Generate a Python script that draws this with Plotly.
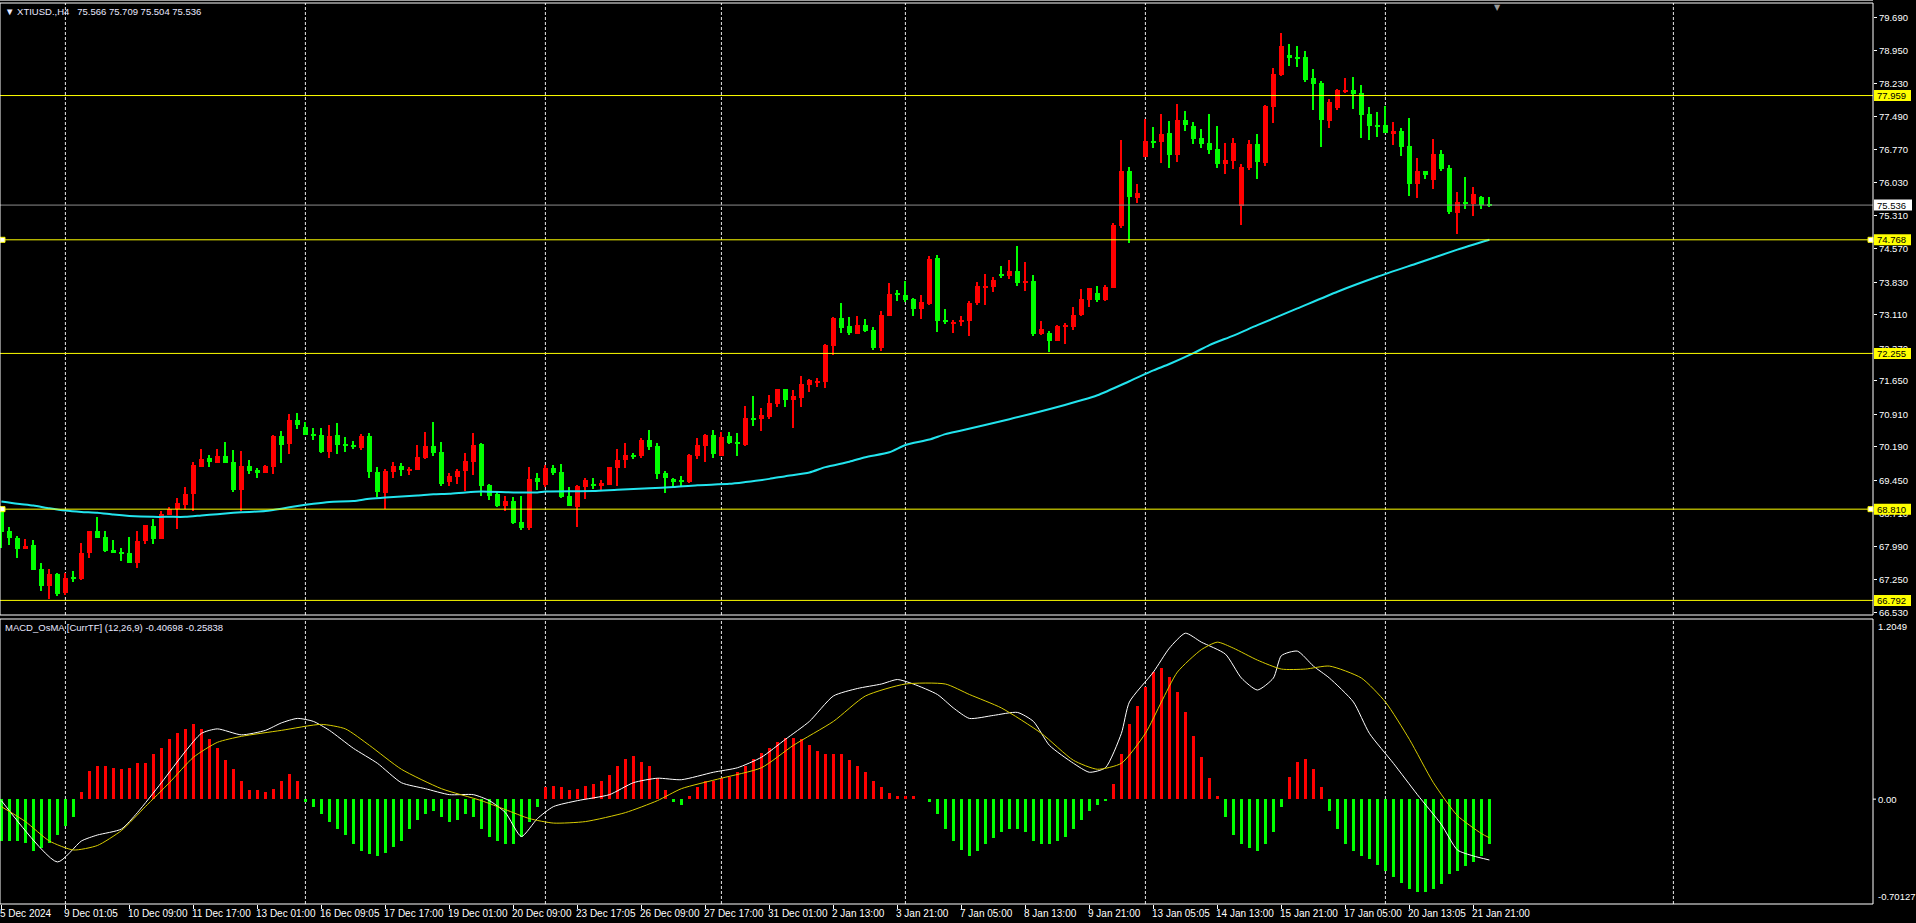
import plotly.graph_objects as go

# ---------------- DATA ----------------
opens = [68.79,68.33,68.17,67.94,68.02,67.49,67.10,67.38,66.96,67.29,
         67.27,67.83,68.33,68.20,67.91,67.87,67.84,67.63,68.11,68.44,
         68.16,68.68,68.81,68.91,69.15,69.75,69.94,69.84,69.99,69.85,
         69.24,69.77,69.68,69.61,69.75,70.43,70.25,70.78,70.63,70.45,
         70.45,70.08,70.45,70.25,70.23,70.16,70.43,69.63,69.17,69.63,
         69.77,69.66,69.68,69.94,70.21,70.07,69.41,69.52,69.66,69.86,
         70.25,69.35,69.15,68.89,68.99,68.53,68.40,69.50,69.35,69.73,
         69.63,69.10,68.86,69.30,69.37,69.33,69.35,69.72,69.90,70.00,
         69.99,70.34,70.21,69.61,69.48,69.44,69.41,69.99,70.21,70.45,
         69.99,70.43,70.29,70.23,70.83,70.80,70.85,71.14,71.47,71.23,
         71.27,71.56,71.62,71.62,72.42,73.04,72.86,72.68,72.88,72.77,
         72.38,73.08,73.58,73.55,73.46,73.24,73.35,74.37,72.99,72.92,
         72.94,72.98,73.36,73.72,73.72,73.99,73.97,74.08,73.81,73.86,
         72.68,72.71,72.54,72.85,72.84,73.11,73.44,73.59,73.44,73.70,
         75.07,76.29,75.69,76.60,76.95,76.93,77.13,76.64,77.42,77.29,
         77.02,76.91,76.78,76.45,76.51,75.52,76.36,76.89,76.47,77.71,
         78.41,78.86,78.81,78.81,78.35,78.24,77.40,77.68,78.04,78.08,
         78.01,77.55,77.29,77.31,77.13,77.17,76.84,76.00,76.29,76.09,
         76.67,76.36,75.36,75.60,75.56,75.72,75.566]
highs = [68.83,68.42,68.21,68.15,68.13,67.62,67.49,67.40,67.39,67.44,
         68.06,68.33,68.64,68.33,68.13,67.96,68.19,68.33,68.46,68.59,
         68.78,68.85,69.06,69.30,69.86,70.14,70.01,70.14,70.30,70.12,
         70.10,69.90,69.72,69.79,70.45,70.54,70.92,70.94,70.74,70.61,
         70.61,70.67,70.72,70.41,70.32,70.47,70.50,69.74,69.70,69.85,
         69.83,69.74,70.23,70.52,70.74,70.30,69.61,69.70,70.05,70.50,
         70.27,69.37,69.21,69.10,69.07,69.10,69.74,69.60,69.78,69.78,
         69.81,69.29,69.35,69.49,69.51,69.46,69.74,70.14,70.27,70.05,
         70.38,70.56,70.27,69.65,69.50,69.54,70.03,70.38,70.47,70.56,
         70.52,70.52,70.49,71.09,71.31,71.05,71.34,71.47,71.47,71.45,
         71.76,71.69,71.71,72.46,73.06,73.37,73.06,73.08,73.02,72.84,
         73.19,73.81,73.66,73.86,73.48,73.55,74.41,74.43,73.24,73.00,
         73.08,73.41,73.83,74.01,73.95,74.19,74.32,74.63,74.28,73.99,
         72.97,72.75,72.88,72.93,73.28,73.68,73.70,73.75,73.77,75.14,
         76.98,76.38,76.00,77.44,77.26,77.55,77.40,77.77,77.62,77.37,
         77.22,77.55,77.29,76.91,77.02,76.45,76.98,77.11,77.75,78.57,
         79.34,79.10,79.06,78.94,78.55,78.28,77.88,78.10,78.35,78.37,
         78.19,77.71,77.60,77.73,77.37,77.24,77.46,76.58,76.29,77.00,
         76.76,76.42,75.83,76.16,75.94,75.74,75.709]
lows = [67.96,68.02,67.74,67.94,67.47,66.99,66.82,66.90,66.91,67.19,
        67.24,67.74,68.18,67.87,67.83,67.67,67.63,67.50,68.05,68.03,
        68.14,68.67,68.38,68.82,68.76,69.75,69.75,69.84,69.84,69.20,
        68.76,69.59,69.51,69.60,69.59,69.83,70.03,70.59,70.46,70.35,
        70.06,69.95,70.03,70.08,70.14,70.11,69.51,69.09,68.81,69.49,
        69.54,69.57,69.68,69.92,69.99,69.32,69.32,69.37,69.21,69.57,
        69.10,69.01,68.86,68.78,68.48,68.36,68.34,69.23,69.31,69.57,
        69.05,68.87,68.42,69.04,69.25,69.23,69.35,69.32,69.72,69.92,
        69.94,70.12,69.48,69.17,69.29,69.31,69.39,69.92,69.85,69.94,
        69.99,70.25,69.99,70.21,70.65,70.54,70.80,71.06,71.07,70.61,
        71.06,71.40,71.51,71.49,72.21,72.71,72.66,72.68,72.73,72.33,
        72.31,73.08,73.41,73.39,73.08,73.02,73.33,72.73,72.91,72.71,
        72.87,72.65,73.33,73.33,73.61,73.92,73.90,73.75,73.64,72.64,
        72.66,72.29,72.54,72.47,72.77,73.08,73.28,73.39,73.42,73.70,
        75.03,74.70,75.58,76.60,76.80,76.47,76.36,76.49,77.17,76.89,
        76.80,76.67,76.36,76.22,76.33,75.10,76.31,76.12,76.41,77.36,
        78.39,78.61,78.59,78.26,77.64,76.82,77.24,77.64,78.02,77.66,
        77.02,76.98,77.04,77.13,76.87,76.62,75.74,75.69,76.11,75.89,
        76.29,75.34,74.90,75.45,75.30,75.45,75.504]
closes = [68.31,68.18,67.94,68.00,67.47,67.10,67.38,66.94,67.29,67.27,
          67.84,68.33,68.18,67.89,67.85,67.83,67.63,68.11,68.46,68.16,
          68.70,68.81,68.95,69.15,69.79,69.92,69.86,69.99,69.84,69.24,
          69.77,69.66,69.62,69.77,70.43,70.24,70.78,70.68,70.46,70.44,
          70.08,70.43,70.24,70.21,70.19,70.43,69.63,69.19,69.66,69.77,
          69.68,69.70,69.97,70.21,70.05,69.37,69.54,69.66,69.88,70.23,
          69.32,69.10,68.88,68.99,68.50,68.40,69.48,69.41,69.72,69.61,
          69.09,68.87,69.32,69.46,69.33,69.39,69.74,69.90,70.01,69.98,
          70.34,70.18,69.59,69.50,69.41,69.43,70.01,70.23,70.45,70.03,
          70.41,70.27,70.26,70.83,70.80,70.89,71.16,71.47,71.23,71.31,
          71.58,71.67,71.65,72.44,73.04,72.82,72.71,72.88,72.75,72.38,
          73.11,73.57,73.55,73.44,73.24,73.39,74.34,72.97,72.96,72.95,
          73.00,73.37,73.75,73.75,73.88,73.97,74.08,73.81,73.86,72.68,
          72.80,72.54,72.86,72.86,73.11,73.46,73.70,73.44,73.72,75.10,
          76.29,75.72,75.80,76.95,76.93,77.11,76.64,77.42,77.31,77.00,
          76.89,76.75,76.45,76.53,76.91,76.38,76.89,76.50,77.73,78.44,
          79.06,78.79,78.79,78.30,78.22,77.42,77.82,78.08,78.08,77.99,
          77.53,77.29,77.27,77.13,77.17,76.82,76.00,76.29,76.20,76.67,
          76.33,75.38,75.60,75.56,75.78,75.54,75.536]

# moving average (cyan), sampled at bar indexes
ma_bars = [0,2,4,6,8,10,12,14,16,19,21,23,25,27,29,31,33,35,37,39,41,44,46,48,50,52,54,56,58,60,
           64,67,68,74,77,81,84,87,91,93,96,98,101,103,106,108,111,113,116,118,120,
           126,132,137,141,144,146,149,151,154,157,162,167,172,177,182,186]
ma_vals = [68.98,68.93,68.89,68.83,68.78,68.75,68.73,68.69,68.66,68.64,68.64,68.64,68.67,68.70,68.73,
           68.75,68.77,68.82,68.88,68.93,68.97,68.99,69.04,69.07,69.09,69.11,69.14,69.15,69.18,69.20,
           69.18,69.18,69.20,69.21,69.24,69.27,69.30,69.34,69.37,69.41,69.48,69.54,69.62,69.74,69.86,
           69.96,70.07,70.23,70.35,70.47,70.55,
           70.80,71.07,71.33,71.64,71.88,72.02,72.26,72.44,72.65,72.88,73.25,73.62,73.95,74.25,74.55,74.77]

# MACD_OsMA histogram (one value per bar)
osma = [-0.28,-0.28,-0.28,-0.29,-0.35,-0.33,-0.29,-0.24,-0.18,-0.12,
        0.05,0.19,0.22,0.22,0.21,0.20,0.21,0.24,0.24,0.30,
        0.34,0.40,0.44,0.47,0.50,0.47,0.40,0.34,0.26,0.20,
        0.12,0.06,0.06,0.05,0.07,0.12,0.17,0.12,-0.02,-0.05,
        -0.10,-0.15,-0.20,-0.24,-0.30,-0.35,-0.37,-0.38,-0.36,-0.32,
        -0.28,-0.20,-0.14,-0.10,-0.08,-0.12,-0.15,-0.14,-0.10,-0.12,
        -0.20,-0.25,-0.28,-0.30,-0.30,-0.25,-0.15,-0.05,0.08,0.09,
        0.08,0.06,0.07,0.09,0.10,0.12,0.16,0.22,0.27,0.29,
        0.25,0.22,0.14,0.06,-0.02,-0.04,0.02,0.08,0.12,0.12,
        0.14,0.15,0.18,0.22,0.27,0.31,0.34,0.38,0.41,0.41,
        0.40,0.36,0.32,0.30,0.30,0.30,0.26,0.22,0.18,0.12,
        0.08,0.04,0.02,0.02,0.02,0.00,-0.02,-0.10,-0.20,-0.28,
        -0.34,-0.38,-0.35,-0.30,-0.26,-0.22,-0.20,-0.20,-0.22,-0.28,
        -0.30,-0.30,-0.28,-0.25,-0.20,-0.14,-0.08,-0.04,-0.01,0.10,
        0.30,0.50,0.62,0.75,0.85,0.88,0.82,0.72,0.58,0.42,
        0.28,0.14,0.02,-0.12,-0.24,-0.30,-0.33,-0.35,-0.30,-0.22,
        -0.05,0.15,0.25,0.27,0.20,0.08,-0.08,-0.20,-0.30,-0.35,
        -0.38,-0.40,-0.44,-0.48,-0.52,-0.56,-0.60,-0.62,-0.62,-0.60,
        -0.57,-0.50,-0.48,-0.45,-0.42,-0.38,-0.30]

# MACD main line (white), sampled at bar indexes
macd_bars = [0,7,10,12,15,17,20,23,25,27,30,33,35,37,39,41,44,47,50,53,56,59,61,63,65,67,69,72,76,79,
             82,85,89,92,95,98,101,104,107,110,112,114,117,119,121,124,127,129,131,134,136,138,140,141,
             144,146,148,150,153,155,157,159,160,162,164,166,169,171,174,177,180,182,184,186]
macd_vals = [-0.01,-0.42,-0.28,-0.24,-0.20,-0.09,0.11,0.32,0.44,0.47,0.43,0.46,0.51,0.54,0.52,0.46,
             0.34,0.24,0.11,0.07,0.03,0.03,-0.01,-0.09,-0.25,-0.13,-0.05,-0.01,0.03,0.11,
             0.14,0.13,0.18,0.21,0.28,0.40,0.52,0.69,0.74,0.77,0.80,0.77,0.70,0.61,0.54,0.56,0.58,
             0.52,0.36,0.24,0.18,0.21,0.44,0.65,
             0.85,1.01,1.11,1.05,0.97,0.81,0.73,0.81,0.96,0.99,0.89,0.81,0.65,0.44,0.24,0.03,-0.17,
             -0.34,-0.38,-0.40698]
# signal line (yellow), sampled at bar indexes
signal_bars = [0,3,6,9,12,15,18,21,24,27,30,35,40,43,46,50,55,60,63,66,69,73,78,82,85,90,95,99,104,
               108,113,118,121,125,130,134,137,140,143,145,147,150,152,154,157,160,163,166,170,173,176,
               179,182,185,186]
signal_vals = [-0.05,-0.15,-0.28,-0.34,-0.31,-0.21,-0.05,0.11,0.28,0.38,0.42,0.46,0.50,0.47,0.36,0.20,
               0.07,-0.01,-0.07,-0.13,-0.16,-0.15,-0.09,-0.01,0.07,0.14,0.21,0.36,0.52,
               0.69,0.77,0.77,0.70,0.61,0.44,0.26,0.20,0.24,0.44,0.65,0.85,1.00,1.05,1.01,0.93,0.87,
               0.87,0.89,0.81,0.65,0.40,0.11,-0.11,-0.23,-0.25838]

# horizontal levels
level_vals = [77.959, 74.768, 72.255, 68.810, 66.792]
selected_levels = [74.768, 68.810]
bid_price = 75.536

price_ticks = [79.690, 78.950, 78.230, 77.490, 76.770, 76.030, 75.310, 74.570, 73.830, 73.110,
               72.370, 71.650, 70.910, 70.190, 69.450, 68.710, 67.990, 67.250, 66.530]
macd_top, macd_bottom = 1.2049, -0.70127

label_bars = list(range(0, 185, 8))
label_texts = ["5 Dec 2024", "9 Dec 01:05", "10 Dec 09:00", "11 Dec 17:00", "13 Dec 01:00",
               "16 Dec 09:05", "17 Dec 17:00", "19 Dec 01:00", "20 Dec 09:00", "23 Dec 17:05",
               "26 Dec 09:00", "27 Dec 17:00", "31 Dec 01:00", "2 Jan 13:00", "3 Jan 21:00",
               "7 Jan 05:00", "8 Jan 13:00", "9 Jan 21:00", "13 Jan 05:05", "14 Jan 13:00",
               "15 Jan 21:00", "17 Jan 05:00", "20 Jan 13:05", "21 Jan 21:00"]
grid_bars = [8, 38, 68, 90, 113, 143, 173, 209]

title_text = "XTIUSD.,H4"
macd_title = "MACD_OsMA [CurrTF] (12,26,9)"

# ---------------- FIGURE ----------------
FONT = "Liberation Sans"
UP, DOWN = "#ff0000", "#00ff00"
W, H = 1916, 923
ML, MR, MT, MB = 0, 43, 3, 19
plot_h = H - MT - MB
price_dom = [(904 - 615) / plot_h, 1.0]
macd_dom = [0.0, (904 - 619) / plot_h]

n = len(closes)
idx = list(range(n))
cols = [UP if c >= o else DOWN for o, c in zip(opens, closes)]
min_body = 0.022
body_h = [max(abs(c - o), min_body) for o, c in zip(opens, closes)]
body_base = [min(o, c) - (bh - abs(c - o)) / 2 for o, c, bh in zip(opens, closes, body_h)]

fig = go.Figure()
fig.add_trace(go.Bar(x=idx, base=lows, y=[h - l for h, l in zip(highs, lows)], width=0.13,
                     marker=dict(color=cols, line=dict(width=0)), xaxis="x", yaxis="y", hoverinfo="skip"))
fig.add_trace(go.Bar(x=idx, base=body_base, y=body_h, width=0.625,
                     marker=dict(color=cols, line=dict(width=0)), xaxis="x", yaxis="y", hoverinfo="skip"))
fig.add_trace(go.Scatter(x=ma_bars, y=ma_vals, mode="lines",
                         line=dict(color="#22e4ee", width=2, shape="spline", smoothing=0.6),
                         xaxis="x", yaxis="y", hoverinfo="skip"))

hcols = [UP if v > 0 else DOWN for v in osma]
fig.add_trace(go.Bar(x=idx, y=osma, width=0.36, marker=dict(color=hcols, line=dict(width=0)),
                     xaxis="x", yaxis="y2", hoverinfo="skip"))
fig.add_trace(go.Scatter(x=macd_bars, y=macd_vals, mode="lines",
                         line=dict(color="#ffffff", width=1, shape="spline", smoothing=0.6),
                         xaxis="x", yaxis="y2", hoverinfo="skip"))
fig.add_trace(go.Scatter(x=signal_bars, y=signal_vals, mode="lines",
                         line=dict(color="#d8cc00", width=1, shape="spline", smoothing=0.6),
                         xaxis="x", yaxis="y2", hoverinfo="skip"))

shapes = []
# top window border
shapes.append(dict(type="line", xref="paper", yref="paper", x0=0, x1=1, y0=(904 - 0.5) / plot_h,
                   y1=(904 - 0.5) / plot_h, line=dict(color="#9a9a9a", width=1)))
# vertical dashed grid (both panels)
for g in grid_bars:
    for dom in (price_dom, macd_dom):
        shapes.append(dict(type="line", xref="x", yref="paper", x0=g, x1=g, y0=dom[0], y1=dom[1],
                           line=dict(color="#e8e8e8", width=1, dash="3px,2px"), layer="below"))
# level lines
for v in level_vals:
    shapes.append(dict(type="line", xref="paper", yref="y", x0=0, x1=1, y0=v, y1=v,
                       line=dict(color="#ffff00", width=1), layer="above"))
shapes.append(dict(type="line", xref="paper", yref="y", x0=0, x1=1, y0=bid_price, y1=bid_price,
                   line=dict(color="#8c8c8c", width=1), layer="above"))
# selection squares on the selected levels
for v in selected_levels:
    for xa, x0, x1 in ((0, 0, 5), (1, -5, 0)):
        shapes.append(dict(type="rect", xref="paper", xsizemode="pixel", xanchor=xa, x0=x0, x1=x1,
                           yref="y", ysizemode="pixel", yanchor=v, y0=-2.5, y1=2.5,
                           fillcolor="#ffffff", line=dict(color="#ffff00", width=1), layer="above"))
# label boxes on the right axis
for v in level_vals:
    shapes.append(dict(type="rect", xref="paper", xsizemode="pixel", xanchor=1, x0=1, x1=38,
                       yref="y", ysizemode="pixel", yanchor=v, y0=-5.5, y1=5.5,
                       fillcolor="#ffff00", line=dict(width=0), layer="above"))
shapes.append(dict(type="rect", xref="paper", xsizemode="pixel", xanchor=1, x0=1, x1=39,
                   yref="y", ysizemode="pixel", yanchor=bid_price, y0=-5.5, y1=5.5,
                   fillcolor="#ffffff", line=dict(width=0), layer="above"))
# panel frames
for dom in (price_dom, macd_dom):
    shapes.append(dict(type="rect", xref="paper", yref="paper", x0=0, x1=1, y0=dom[0], y1=dom[1],
                       line=dict(color="#ffffff", width=1), fillcolor="rgba(0,0,0,0)", layer="above"))
# zero tick on the MACD axis
shapes.append(dict(type="line", xref="paper", xsizemode="pixel", xanchor=1, x0=0, x1=3,
                   yref="y2", y0=0, y1=0, line=dict(color="#ffffff", width=1)))

AX = 9.5
annotations = []
for v in level_vals:
    annotations.append(dict(xref="paper", x=1, xanchor="left", xshift=2, yref="y", y=v, yanchor="middle",
                            text=f"{v:.3f}", showarrow=False, font=dict(family=FONT, size=AX, color="#000000")))
annotations.append(dict(xref="paper", x=1, xanchor="left", xshift=2, yref="y", y=bid_price, yanchor="middle",
                        text=f"{bid_price:.3f}", showarrow=False, font=dict(family=FONT, size=AX, color="#000000")))
for b, t in zip(label_bars, label_texts):
    annotations.append(dict(xref="x", x=b, xanchor="left", xshift=-3, yref="paper", y=-1.5 / plot_h,
                            yanchor="top", text=t, showarrow=False,
                            font=dict(family=FONT, size=10, color="#ffffff")))
ohlc_last = f"{opens[-1]:.3f} {highs[-1]:.3f} {lows[-1]:.3f} {closes[-1]:.3f}"
annotations.append(dict(xref="paper", x=0, xanchor="left", xshift=3, yref="paper", y=1, yanchor="top",
                        yshift=-1, text="\u25bc " + title_text + "\u00a0\u00a0 " + ohlc_last, showarrow=False,
                        font=dict(family=FONT, size=9.5, color="#e8e8ff")))
annotations.append(dict(xref="paper", x=0, xanchor="left", xshift=3, yref="paper", y=macd_dom[1], yanchor="top",
                        yshift=-1, text=f"{macd_title} {macd_vals[-1]:.5f} {signal_vals[-1]:.5f}",
                        showarrow=False, font=dict(family=FONT, size=9.5, color="#e8e8ff")))
annotations.append(dict(xref="paper", x=1, xanchor="left", xshift=3, yref="y2", y=macd_top, yanchor="top",
                        text=f"{macd_top:.4f}", showarrow=False, font=dict(family=FONT, size=AX, color="#ffffff")))
annotations.append(dict(xref="paper", x=1, xanchor="left", xshift=3, yref="y2", y=macd_bottom, yanchor="bottom",
                        text=f"{macd_bottom:.5f}", showarrow=False, font=dict(family=FONT, size=AX, color="#ffffff")))
annotations.append(dict(xref="paper", x=1, xanchor="left", xshift=3, yref="y2", y=0, yanchor="middle",
                        text="0.00", showarrow=False, font=dict(family=FONT, size=AX, color="#ffffff")))
annotations.append(dict(xref="x", x=n, yref="paper", y=1, yanchor="top", yshift=2, text="\u25bc",
                        showarrow=False, font=dict(family="DejaVu Sans", size=8, color="#9a9a9a")))

fig.update_layout(
    width=W, height=H, margin=dict(l=ML, r=MR, t=MT, b=MB),
    paper_bgcolor="#000000", plot_bgcolor="#000000", showlegend=False,
    barmode="overlay", bargap=0, font=dict(family=FONT, size=10, color="#ffffff"),
    xaxis=dict(domain=[0, 1], range=[-1.4 / 8, (W - MR - 1.4) / 8], anchor="y2",
               showgrid=False, zeroline=False, showline=False, showticklabels=False,
               tickvals=label_bars, ticks="outside", ticklen=4, tickcolor="#ffffff", tickwidth=1),
    yaxis=dict(domain=price_dom, range=[66.469, 80.006], side="right", anchor="x",
               tickvals=price_ticks, ticktext=[f"{v:.3f}" for v in price_ticks],
               ticks="outside", ticklen=3, tickcolor="#ffffff", tickfont=dict(family=FONT, size=AX, color="#ffffff"),
               showgrid=False, zeroline=False, showline=False),
    yaxis2=dict(domain=macd_dom, range=[macd_bottom, macd_top], side="right", anchor="x",
                showticklabels=False, ticks="", showgrid=False, zeroline=False, showline=False),
    shapes=shapes, annotations=annotations,
)

fig.write_html("out.html")
